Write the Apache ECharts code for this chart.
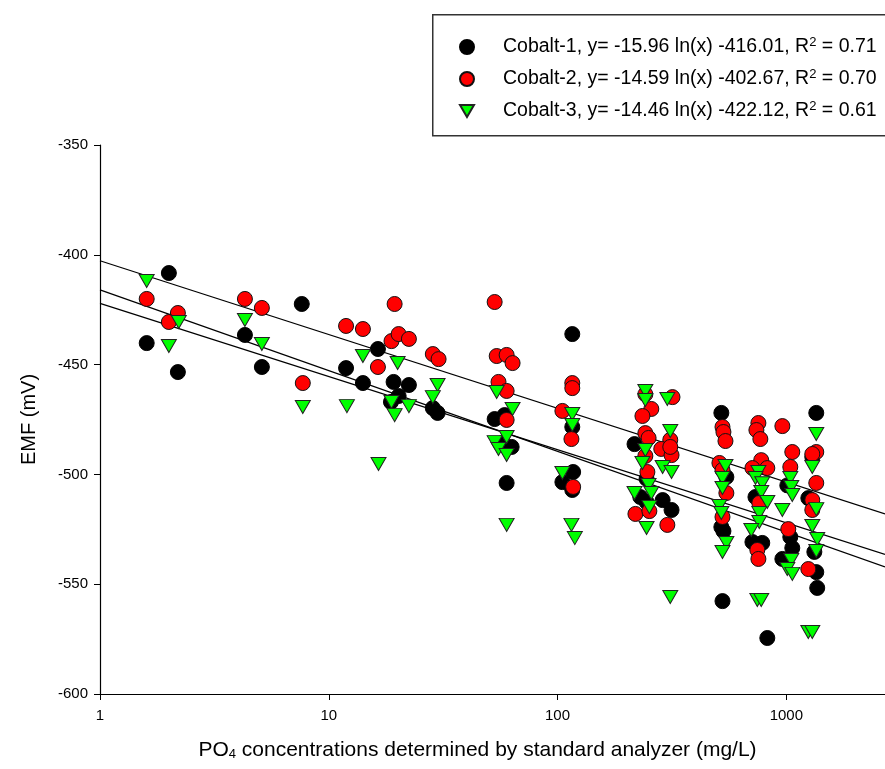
<!DOCTYPE html>
<html>
<head>
<meta charset="utf-8">
<script src="https://cdn.jsdelivr.net/npm/echarts@6/dist/echarts.min.js"></script>
<style>
  html, body { margin: 0; padding: 0; background: #fff; }
  #main { width: 885px; height: 769px; }
</style>
</head>
<body>
<div id="main"></div>
<script>
// series names and the fit equations shown in the legend
var seriesNames = ['Cobalt-1', 'Cobalt-2', 'Cobalt-3'];
var fitText = ['-15.96 ln(x) -416.01', '-14.59 ln(x) -402.67', '-14.46 ln(x) -422.12'];
var r2Text = ['0.71', '0.70', '0.61'];

// [PO4 mg/L, EMF mV]
var cobalt1 = [
  [1.60,-440.2],[2.00,-408.3],[2.19,-453.4],[4.30,-436.5],[5.10,-451.1],[7.62,-422.4],
  [11.9,-451.6],[14.1,-458.4],[16.4,-442.9],[19.2,-457.9],[22.4,-459.3],[20.2,-464.3],
  [18.7,-467.0],[28.5,-469.8],[29.9,-472.0],
  [53.1,-474.8],[58.7,-473.0],[63.0,-487.5],[57.5,-485.7],[59.9,-503.9],
  [116,-436.1],[116,-478.4],[117,-498.9],[105,-503.5],[116,-507.1],
  [217,-486.2],[245,-502.0],[230,-510.3],[245,-512.6],[288,-511.7],[315,-516.2],
  [520,-472.0],[547,-501.2],[520,-524.0],[531,-525.8],[526,-557.7],
  [733,-510.3],[711,-530.8],[785,-531.2],[826,-574.5],[1010,-505.0],[1041,-528.5],
  [1062,-533.5],[961,-538.5],
  [1352,-472.0],[1299,-492.1],[1248,-510.8],[1326,-535.3],[1352,-544.5],[1365,-551.7]
];
var cobalt2 = [
  [1.60,-420.1],[2.19,-426.5],[2.00,-430.6],[4.30,-420.1],[5.10,-424.2],[7.70,-458.4],
  [11.9,-432.4],[14.1,-433.8],[18.8,-439.3],[20.2,-436.1],[22.4,-438.3],[19.4,-422.4],
  [16.4,-451.1],[28.5,-445.2],[30.2,-447.5],
  [53.1,-421.5],[54.2,-446.1],[59.9,-445.6],[63.6,-449.3],[55.2,-457.9],[59.9,-462.0],[59.9,-475.2],
  [116,-458.4],[116,-460.7],[105,-471.1],[115,-483.9],[117,-505.7],
  [242,-463.5],[318,-464.8],[257,-470.2],[235,-473.4],[242,-481.2],[250,-483.4],
  [242,-491.6],[247,-498.9],[219,-518.0],[252,-516.7],[311,-484.3],[284,-488.4],
  [315,-491.2],[311,-487.5],[302,-523.0],
  [526,-478.4],[531,-480.7],[542,-484.8],[510,-494.8],[526,-498.0],[547,-508.5],[526,-519.4],
  [755,-476.6],[740,-479.8],[770,-483.9],[961,-478.0],[777,-493.5],[711,-497.1],[826,-497.1],
  [762,-513.0],[747,-534.4],[755,-538.5],[1062,-489.8],[1041,-496.6],[1020,-524.9],
  [1352,-489.8],[1299,-490.7],[1352,-503.9],[1299,-511.7],[1299,-516.2],[1248,-543.1]
];
var cobalt3 = [
  [1.60,-411.9],[2.21,-430.6],[2.00,-441.5],[4.30,-429.7],[5.10,-440.6],[7.70,-469.3],
  [12.0,-468.9],[14.1,-446.1],[20.0,-449.3],[18.8,-467.0],[19.4,-473.0],[22.4,-468.9],
  [16.5,-495.3],[29.9,-459.3],[28.5,-464.8],
  [54.2,-462.5],[63.6,-470.2],[53.1,-485.3],[59.9,-483.0],[55.2,-488.4],[59.9,-491.2],[59.9,-523.0],
  [116,-472.5],[116,-477.5],[105,-499.4],[115,-523.0],[119,-529.0],
  [242,-462.0],[242,-466.1],[302,-465.7],[242,-488.9],[235,-494.8],[250,-504.8],
  [217,-508.5],[257,-508.5],[252,-514.9],[245,-524.4],[311,-480.2],[288,-496.6],
  [315,-498.9],[311,-555.8],
  [542,-496.2],[526,-501.6],[526,-506.2],[510,-514.4],[520,-517.6],[547,-531.2],[526,-535.3],
  [755,-498.9],[733,-501.6],[785,-504.0],[777,-508.0],[826,-512.6],[961,-516.2],
  [762,-517.6],[762,-521.7],[703,-525.3],[747,-557.2],[777,-557.2],
  [1041,-501.6],[1051,-505.7],[1062,-509.4],[1051,-539.0],[1010,-543.1],[1062,-545.3],
  [1352,-481.6],[1299,-496.6],[1352,-515.8],[1299,-523.5],[1365,-529.4],[1352,-534.9],
  [1248,-571.8],[1299,-571.8]
];

// fit lines, end points at the edges of the x range
var fitX = [1, 2700];
var fit1 = [-416.0, -542.1];
var fit2 = [-402.7, -518.0];
var fit3 = [-422.1, -536.4];

var yTicks = [-600, -550, -500, -450, -400, -350];

var downTriangle = 'path://M0,0 L14,0 L7,12 Z';

var myChart = echarts.init(document.getElementById('main'));

function pairs(xs, ys) {
  return xs.map(function (x, i) { return [x, ys[i]]; });
}

function fitSeries(ys) {
  return {
    type: 'line',
    data: pairs(fitX, ys),
    symbol: 'none',
    silent: true,
    z: 1,
    lineStyle: { color: '#000', width: 1.2 }
  };
}

var option = {
  animation: false,
  backgroundColor: '#fff',
  textStyle: { fontFamily: 'Liberation Sans, Arial, sans-serif' },
  grid: { left: 100, top: 145, right: 0, bottom: 75 },
  graphic: [{
    type: 'rect',
    left: 432, top: 14,
    shape: { width: 480, height: 121 },
    style: { fill: '#fff', stroke: '#333', lineWidth: 1.5 },
    z: -1
  }],
  legend: {
    orient: 'vertical',
    left: 454, top: 31,
    itemWidth: 14, itemHeight: 14,
    itemGap: 10,
    selectedMode: false,
    data: [
      { name: seriesNames[0], icon: 'circle' },
      { name: seriesNames[1], icon: 'circle' },
      { name: seriesNames[2], icon: downTriangle }
    ],
    formatter: function (name) {
      var i = seriesNames.indexOf(name);
      return name + ', y= ' + fitText[i] + ', R{sup|2} = ' + r2Text[i];
    },
    textStyle: {
      fontSize: 19.5, color: '#000',
      padding: [0, 0, 0, 24],
      lineHeight: 22,
      rich: { sup: { fontSize: 13, verticalAlign: 'top', lineHeight: 22, padding: [0, 0, 7, 0] } }
    }
  },
  xAxis: {
    type: 'log',
    logBase: 10,
    min: 1, max: 2700,
    name: 'PO{sub|4} concentrations determined by standard analyzer (mg/L)',
    nameLocation: 'middle',
    nameGap: 45,
    nameTextStyle: {
      fontSize: 21, color: '#000', padding: [0, 30, 0, 0],
      rich: { sub: { fontSize: 13, verticalAlign: 'bottom', padding: [9, 0, 0, 0] } }
    },
    axisLine: { onZero: false, lineStyle: { color: '#000', width: 1.2 } },
    axisTick: { length: 6, lineStyle: { color: '#000' } },
    axisLabel: {
      fontSize: 15, color: '#000', margin: 14, showMaxLabel: false,
      formatter: function (v) { return String(Math.round(v)); }
    },
    splitLine: { show: false },
    minorTick: { show: false }
  },
  yAxis: {
    type: 'value',
    min: yTicks[0], max: yTicks[yTicks.length - 1], interval: 50,
    name: 'EMF (mV)',
    nameLocation: 'middle',
    nameGap: 61,
    nameRotate: 90,
    nameTextStyle: { fontSize: 20, color: '#000' },
    axisLine: { show: true, lineStyle: { color: '#000', width: 1.2 } },
    axisTick: { show: true, length: 6, lineStyle: { color: '#000' } },
    axisLabel: { fontSize: 15, color: '#000', margin: 12 },
    splitLine: { show: false }
  },
  series: [
    fitSeries(fit1),
    fitSeries(fit2),
    fitSeries(fit3),
    {
      name: seriesNames[0], type: 'scatter', data: cobalt1, z: 2,
      symbol: 'circle', symbolSize: 15,
      itemStyle: { color: '#000', borderColor: '#000', borderWidth: 1, opacity: 1 }
    },
    {
      name: seriesNames[1], type: 'scatter', data: cobalt2, z: 3,
      symbol: 'circle', symbolSize: 15,
      itemStyle: { color: '#ff0000', borderColor: '#111', borderWidth: 1, opacity: 1 }
    },
    {
      name: seriesNames[2], type: 'scatter', data: cobalt3, z: 4,
      symbol: 'triangle', symbolRotate: 180, symbolSize: [15, 13],
      itemStyle: { color: '#00ff00', borderColor: '#222', borderWidth: 1, opacity: 1 }
    }
  ]
};
myChart.setOption(option);
</script>
</body>
</html>
